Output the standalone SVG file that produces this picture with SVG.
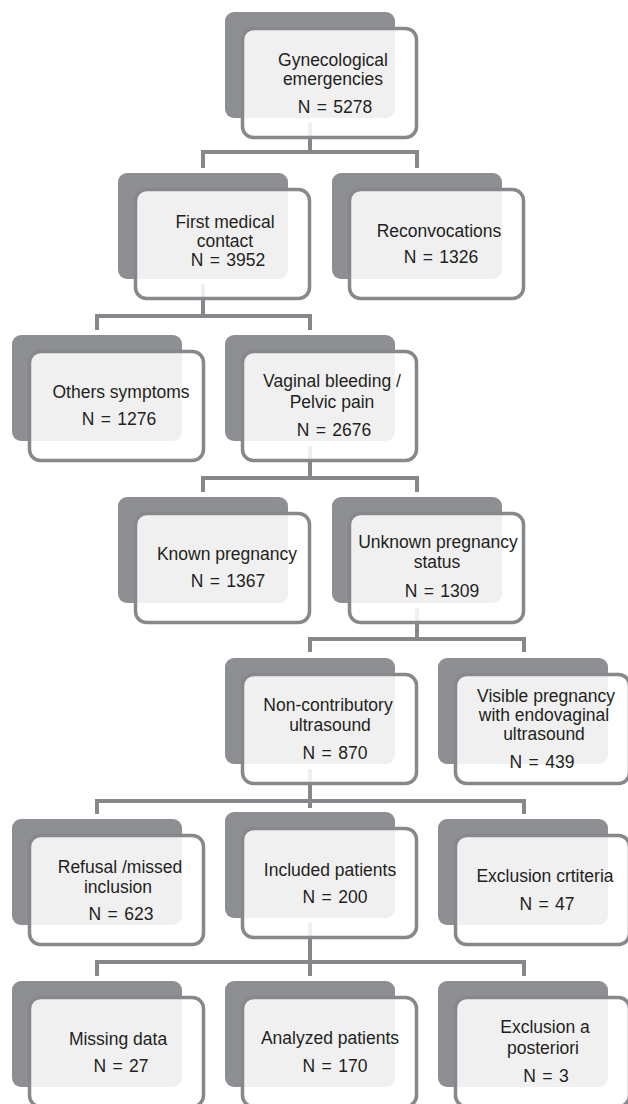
<svg xmlns="http://www.w3.org/2000/svg" width="628" height="1104" viewBox="0 0 628 1104">
<style>
.bg{fill:#8e8f93}
.fr{fill:#ffffff;fill-opacity:0.87;stroke:#87888b;stroke-width:3.5}
.cn{fill:none;stroke:#86878a;stroke-width:4;stroke-linejoin:miter;stroke-linecap:butt}
text{font-family:"Liberation Sans",Arial,sans-serif;font-size:17.5px;fill:#231f20;text-anchor:middle}
.n{word-spacing:1.5px}
</style>
<rect width="628" height="1104" fill="#ffffff"/>
<g id="connectors">
<path class="cn" d="M310,123 V152 M203,168 V152 H417 V168"/>
<path class="cn" d="M203,284 V316 M97,330 V316 H310 V330"/>
<path class="cn" d="M310,446 V478 M203,492 V478 H417 V492"/>
<path class="cn" d="M417,608 V639 M310,652 V639 H524 V652"/>
<path class="cn" d="M310,769 V808 M97,814 V801 H524 V814"/>
<path class="cn" d="M310,923 V962 M310,976 V962 M97,976 V962 H524 V976"/>
</g>
<g id="n1">
<rect class="bg" x="225" y="12" width="170" height="106" rx="9"/>
<rect class="fr" x="242.5" y="28.5" width="174" height="109" rx="11"/>
<text x="333" y="66">Gynecological</text>
<text x="333" y="85">emergencies</text>
<text class="n" x="335" y="113">N = 5278</text>
</g>
<g id="n2">
<rect class="bg" x="118" y="173" width="170" height="106" rx="9"/>
<rect class="fr" x="135.5" y="189.5" width="174" height="109" rx="11"/>
<text x="225" y="228">First medical</text>
<text x="225" y="247">contact</text>
<text class="n" x="228" y="266">N = 3952</text>
</g>
<g id="n3">
<rect class="bg" x="332" y="173" width="170" height="106" rx="9"/>
<rect class="fr" x="349.5" y="189.5" width="174" height="109" rx="11"/>
<text x="439" y="237">Reconvocations</text>
<text class="n" x="441" y="263">N = 1326</text>
</g>
<g id="n4">
<rect class="bg" x="12" y="335" width="170" height="106" rx="9"/>
<rect class="fr" x="29.5" y="351.5" width="174" height="109" rx="11"/>
<text x="121" y="398">Others symptoms</text>
<text class="n" x="119" y="425">N = 1276</text>
</g>
<g id="n5">
<rect class="bg" x="225" y="335" width="170" height="106" rx="9"/>
<rect class="fr" x="242.5" y="351.5" width="174" height="109" rx="11"/>
<text x="332" y="387">Vaginal bleeding /</text>
<text x="332" y="408">Pelvic pain</text>
<text class="n" x="334" y="436">N = 2676</text>
</g>
<g id="n6">
<rect class="bg" x="118" y="497" width="170" height="106" rx="9"/>
<rect class="fr" x="135.5" y="513.5" width="174" height="109" rx="11"/>
<text x="227" y="560">Known pregnancy</text>
<text class="n" x="228" y="587">N = 1367</text>
</g>
<g id="n7">
<rect class="bg" x="332" y="497" width="170" height="106" rx="9"/>
<rect class="fr" x="349.5" y="513.5" width="174" height="109" rx="11"/>
<text x="438" y="548">Unknown pregnancy</text>
<text x="437" y="568">status</text>
<text class="n" x="442" y="597">N = 1309</text>
</g>
<g id="n8">
<rect class="bg" x="225" y="658" width="170" height="106" rx="9"/>
<rect class="fr" x="242.5" y="674.5" width="174" height="109" rx="11"/>
<text x="328" y="711">Non-contributory</text>
<text x="330" y="731">ultrasound</text>
<text class="n" x="335" y="759">N = 870</text>
</g>
<g id="n9">
<rect class="bg" x="438" y="658" width="170" height="106" rx="9"/>
<rect class="fr" x="455.5" y="674.5" width="174" height="109" rx="11"/>
<text x="546" y="702">Visible pregnancy</text>
<text x="544" y="721">with endovaginal</text>
<text x="544" y="740">ultrasound</text>
<text class="n" x="542" y="768">N = 439</text>
</g>
<g id="n10">
<rect class="bg" x="12" y="819" width="170" height="106" rx="9"/>
<rect class="fr" x="29.5" y="835.5" width="174" height="109" rx="11"/>
<text x="120" y="873">Refusal /missed</text>
<text x="118" y="893">inclusion</text>
<text class="n" x="121" y="920">N = 623</text>
</g>
<g id="n11">
<rect class="bg" x="225" y="812" width="170" height="106" rx="9"/>
<rect class="fr" x="242.5" y="828.5" width="174" height="109" rx="11"/>
<text x="330" y="876">Included patients</text>
<text class="n" x="335" y="903">N = 200</text>
</g>
<g id="n12">
<rect class="bg" x="438" y="819" width="170" height="106" rx="9"/>
<rect class="fr" x="455.5" y="835.5" width="174" height="109" rx="11"/>
<text x="545" y="882">Exclusion crtiteria</text>
<text class="n" x="547" y="910">N = 47</text>
</g>
<g id="n13">
<rect class="bg" x="12" y="981" width="170" height="106" rx="9"/>
<rect class="fr" x="29.5" y="997.5" width="174" height="109" rx="11"/>
<text x="118" y="1045">Missing data</text>
<text class="n" x="121" y="1072">N = 27</text>
</g>
<g id="n14">
<rect class="bg" x="225" y="981" width="170" height="106" rx="9"/>
<rect class="fr" x="242.5" y="997.5" width="174" height="109" rx="11"/>
<text x="330" y="1044">Analyzed patients</text>
<text class="n" x="335" y="1072">N = 170</text>
</g>
<g id="n15">
<rect class="bg" x="438" y="981" width="170" height="106" rx="9"/>
<rect class="fr" x="455.5" y="997.5" width="174" height="109" rx="11"/>
<text x="545" y="1033">Exclusion a</text>
<text x="543" y="1054">posteriori</text>
<text class="n" x="546" y="1082">N = 3</text>
</g>
</svg>
